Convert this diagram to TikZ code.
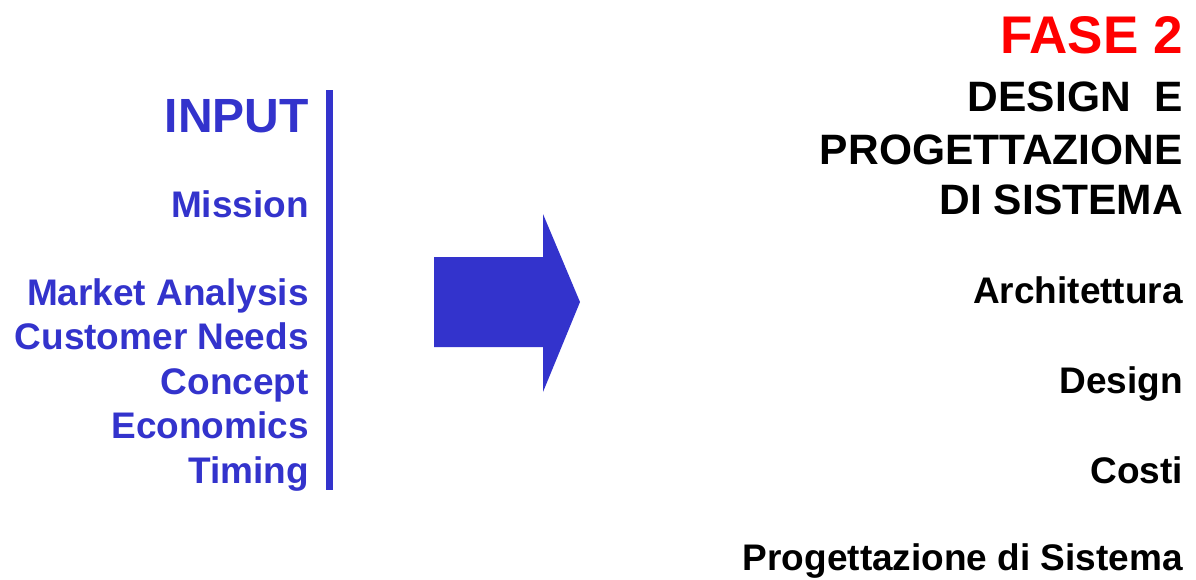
\documentclass[tikz,border=0pt]{standalone}
\usepackage{fontspec}
\setmainfont{Liberation Sans}
\definecolor{inblue}{HTML}{3333CC}
\definecolor{phasered}{HTML}{FF0000}
\tikzset{
  txt/.style={anchor=base east, inner sep=0pt},
  inhead/.style={txt, text=inblue, font=\bfseries\fontsize{48}{48}\selectfont},
  inlabel/.style={txt, text=inblue, font=\bfseries\fontsize{37}{37}\selectfont},
  phasehead/.style={txt, text=phasered, font=\bfseries\fontsize{53}{53}\selectfont},
  outtitle/.style={txt, text=black, font=\bfseries\fontsize{42.5}{42.5}\selectfont},
  outlabel/.style={txt, text=black, font=\bfseries\fontsize{37}{37}\selectfont},
  bigarrow/.style={fill=inblue, draw=none}
}
\begin{document}
\begin{tikzpicture}[x=1pt, y=-1pt]
\useasboundingbox (0,0) rectangle (1196,579);

% input column
\node[inhead] (input) at (309,132) {INPUT};
\node[inlabel] (mission) at (309,217) {Mission};
\node[inlabel] (market) at (309,305) {Market Analysis};
\node[inlabel] (customer) at (309,349) {Customer Needs};
\node[inlabel] (concept) at (309,394) {Concept};
\node[inlabel] (economics) at (309,438) {Economics};
\node[inlabel] (timing) at (309,483) {Timing};

% separator bar
\fill[inblue] (326,90) rectangle (333,490);

% block arrow
\fill[bigarrow] (434,257) -- (543,257) -- (543,214) -- (580,302) -- (543,392) -- (543,347) -- (434,347) -- cycle;

% phase column
\node[phasehead] (fase) at (1183,53) {FASE 2};
\node[outtitle] (t1) at (1183,111) {DESIGN\ \ E};
\node[outtitle] (t2) at (1183,164) {PROGETTAZIONE};
\node[outtitle] (t3) at (1183,214) {DI SISTEMA};
\node[outlabel] (arch) at (1183,303) {Architettura};
\node[outlabel] (design) at (1183,393) {Design};
\node[outlabel] (costi) at (1183,483) {Costi};
\node[outlabel] (prog) at (1183,570) {Progettazione di Sistema};
\end{tikzpicture}
\end{document}
